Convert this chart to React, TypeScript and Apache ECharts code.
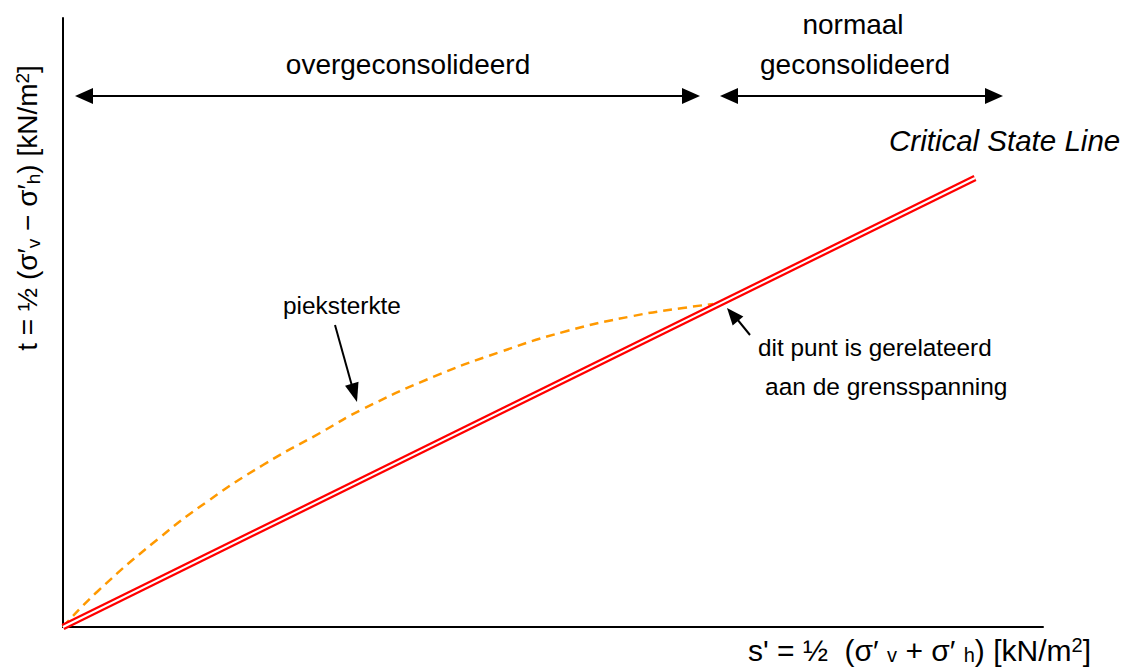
import React, { useEffect, useRef } from "react";
import * as echarts from "echarts";

// Axis extents (arbitrary stress units)
const xMax = 980;
const yMax = 609;

// Critical State Line (start, end)
const cslX = [0, 912];
const cslY = [0, 449];

// Peak strength curve (pieksterkte)
const peakX = [0, 35, 95, 145, 200, 257, 300, 370, 437, 504, 570, 620, 650];
const peakY = [0, 36, 88, 126, 162, 194, 218, 250, 275, 296, 311, 319, 323];

const FONT = "'Liberation Sans', Arial, sans-serif";

export default function App() {
  const ref = useRef<HTMLDivElement>(null);

  useEffect(() => {
    if (!ref.current) return;
    const chart = echarts.init(ref.current, null, { renderer: "svg" });

    const csl = cslX.map((x, i) => [x, cslY[i]]);
    const peak = peakX.map((x, i) => [x, peakY[i]]);

    const arrowHead = (tipX: number, tipY: number, dx: number, dy: number, len: number, half: number) => {
      const l = Math.hypot(dx, dy);
      const ux = dx / l, uy = dy / l;
      const bx = tipX - ux * len, by = tipY - uy * len;
      return {
        type: "polygon",
        shape: {
          points: [
            [tipX, tipY],
            [bx - uy * half, by + ux * half],
            [bx + uy * half, by - ux * half],
          ],
        },
        style: { fill: "#000" },
      };
    };

    const hline = (x1: number, x2: number, y: number) => ({
      type: "line",
      shape: { x1, y1: y, x2, y2: y },
      style: { stroke: "#000", lineWidth: 2 },
    });

    const text = (t: string, x: number, y: number, size: number, align: string, extra: any = {}) => ({
      type: "text",
      x,
      y,
      style: {
        text: t,
        font: `${extra.italic ? "italic " : ""}${size}px ${FONT}`,
        fill: "#000",
        textAlign: align,
        textVerticalAlign: "middle",
        ...(extra.rich ? { rich: extra.rich } : {}),
      },
      ...(extra.rotation ? { rotation: extra.rotation } : {}),
    });

    const richX = {
      sub: { fontSize: 20, fontFamily: FONT, padding: [9, 0, 0, 0], fill: "#000" },
      sup: { fontSize: 20, fontFamily: FONT, padding: [0, 0, 10, 0], fill: "#000" },
    };
    const richY = {
      sub: { fontSize: 19, fontFamily: FONT, padding: [12, 0, 0, 0], fill: "#000" },
      sup: { fontSize: 19, fontFamily: FONT, padding: [0, 0, 10, 0], fill: "#000" },
    };

    chart.setOption({
      animation: false,
      backgroundColor: "#fff",
      grid: { left: 63, right: 1122 - 1043, top: 18, bottom: 668 - 627, containLabel: false },
      xAxis: {
        type: "value",
        min: 0,
        max: xMax,
        axisLine: { onZero: false, lineStyle: { color: "#000", width: 2 } },
        axisTick: { show: false },
        axisLabel: { show: false },
        splitLine: { show: false },
      },
      yAxis: {
        type: "value",
        min: 0,
        max: yMax,
        axisLine: { show: true, onZero: false, lineStyle: { color: "#000", width: 2 } },
        axisTick: { show: false },
        axisLabel: { show: false },
        splitLine: { show: false },
      },
      series: [
        {
          type: "line",
          data: peak,
          smooth: 0.5,
          symbol: "none",
          lineStyle: { color: "#FF9900", width: 2.5, type: [9, 6] },
          z: 2,
        },
        {
          type: "line",
          data: csl,
          symbol: "none",
          lineStyle: { color: "#FF0000", width: 6.5 },
          z: 3,
        },
        {
          type: "line",
          data: csl,
          symbol: "none",
          lineStyle: { color: "#FFFFFF", width: 2 },
          z: 4,
        },
      ],
      graphic: [
        // top double arrows
        hline(92, 683, 96),
        arrowHead(75, 96, -1, 0, 18, 8),
        arrowHead(700, 96, 1, 0, 18, 8),
        hline(737, 986, 96),
        arrowHead(720, 96, -1, 0, 18, 8),
        arrowHead(1003, 96, 1, 0, 18, 8),
        // pieksterkte arrow
        {
          type: "line",
          shape: { x1: 335, y1: 325, x2: 352, y2: 386 },
          style: { stroke: "#000", lineWidth: 2 },
        },
        arrowHead(357, 402, 22, 77, 19, 7),
        // dit punt arrow
        {
          type: "line",
          shape: { x1: 750, y1: 335, x2: 737, y2: 319 },
          style: { stroke: "#000", lineWidth: 2 },
        },
        arrowHead(727, 308, -23, -27, 17, 7),
        // texts
        text("overgeconsolideerd", 408, 64, 28, "center"),
        text("normaal", 853, 24, 28, "center"),
        text("geconsolideerd", 855, 64, 28, "center"),
        text("Critical State Line", 889, 140, 29.5, "left", { italic: true }),
        text("pieksterkte", 283, 305, 24.4, "left"),
        text("dit punt is gerelateerd", 758, 347, 24.3, "left"),
        text("aan de grensspanning", 765, 386, 24.5, "left"),
        text("s' = ½  (σ′ {sub|v} + σ′ {sub|h}) [kN/m{sup|2}]", 748, 650, 30, "left", { rich: richX }),
        text("t = ½ (σ′{sub|v} − σ′{sub|h}) [kN/m{sup|2}]", 27, 208, 28, "center", {
          rich: richY,
          rotation: Math.PI / 2,
        }),
      ],
    });

    return () => chart.dispose();
  }, []);

  return (
    <div
      ref={ref}
      style={{ position: "absolute", left: 0, top: 0, width: 1122, height: 668, background: "#fff" }}
    />
  );
}
